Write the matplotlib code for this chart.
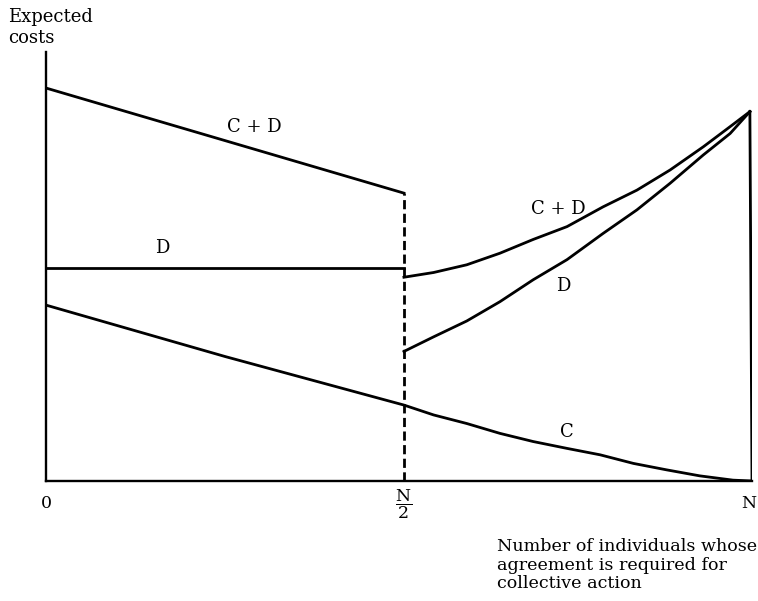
import matplotlib
matplotlib.use("Agg")
import matplotlib.pyplot as plt
from matplotlib.transforms import ScaledTranslation

plt.rcParams['font.family'] = ['DejaVu Serif']
plt.rcParams['mathtext.fontset'] = 'dejavuserif'

# x in percent of N, y in arbitrary cost units (0-100)
half = 50.7
x_left = [0, half]
cd_left = [91.6, 67.1]
d_left = [49.7, 49.7]

x_c = [0, 25.4, half, 54.9, 59.6, 64.3, 69.0, 73.8, 78.5, 83.2, 87.9, 92.6, 97.3, 100]
c_vals = [41.0, 29.0, 17.7, 15.4, 13.4, 11.1, 9.2, 7.6, 6.1, 4.1, 2.6, 1.2, 0.2, 0.0]

x_right = [half, 54.9, 59.6, 64.3, 69.0, 73.8, 78.9, 83.7, 88.4, 93.1, 96.9, 99.7]
cd_right = [47.5, 48.6, 50.4, 53.1, 56.3, 59.3, 63.9, 67.8, 72.5, 77.9, 82.6, 86.1]
d_right = [30.2, 33.6, 37.3, 41.8, 46.9, 51.6, 57.7, 63.2, 69.4, 76.0, 81.0, 86.1]

tick_pos = [0, half, 100]
tick_labels = ['0', r'$\dfrac{\mathrm{N}}{\mathrm{2}}$', 'N']

fig = plt.figure(figsize=(7.58, 6.01), dpi=100)
ax = fig.add_axes([46 / 758, 120 / 601, 706 / 758, 429 / 601])
ax.set_xlim(0, 100)
ax.set_ylim(0, 100)

lw = 2.0
ax.plot(x_left, cd_left, color='black', lw=lw)
ax.plot(x_left, d_left, color='black', lw=lw)
ax.plot(x_c, c_vals, color='black', lw=lw)
ax.plot(x_right, cd_right, color='black', lw=lw)
ax.plot(x_right, d_right, color='black', lw=lw)
# vertical line at N from peak down to zero
ax.plot([x_right[-1], 100], [cd_right[-1], 0], color='black', lw=lw)
# dashed line at N/2
ax.plot([half, half], [0, cd_left[-1]], color='black', lw=lw,
        linestyle=(0, (3.3, 1.6)))

for s in ['top', 'right']:
    ax.spines[s].set_visible(False)
for s in ['left', 'bottom']:
    ax.spines[s].set_linewidth(1.7)
ax.set_yticks([])
ax.set_xticks(tick_pos)
ax.set_xticklabels(tick_labels, fontsize=12.5)
ax.tick_params(axis='x', length=0, pad=16.5)
for lab in ax.get_xticklabels():
    lab.set_verticalalignment('center')
# keep the last label ("N") inside the figure
last = ax.get_xticklabels()[-1]
last.set_horizontalalignment('right')
last.set_transform(last.get_transform() + ScaledTranslation(3 / 72, 0, fig.dpi_scale_trans))

fs = 13
ax.text(29.5, 82.5, 'C + D', fontsize=fs, ha='center', va='center')
ax.text(16.5, 54.2, 'D', fontsize=fs, ha='center', va='center')
ax.text(72.5, 63.5, 'C + D', fontsize=fs, ha='center', va='center')
ax.text(73.3, 45.5, 'D', fontsize=fs, ha='center', va='center')
ax.text(73.8, 11.5, 'C', fontsize=fs, ha='center', va='center')

fig.text(8 / 758, 1 - 8 / 601, 'Expected\ncosts', fontsize=fs,
         ha='left', va='top', linespacing=1.2)
fig.text(497 / 758, 1 - 538 / 601,
         'Number of individuals whose\nagreement is required for\ncollective action',
         fontsize=12.6, ha='left', va='top', linespacing=1.12)

fig.savefig('out.png', dpi=100)
